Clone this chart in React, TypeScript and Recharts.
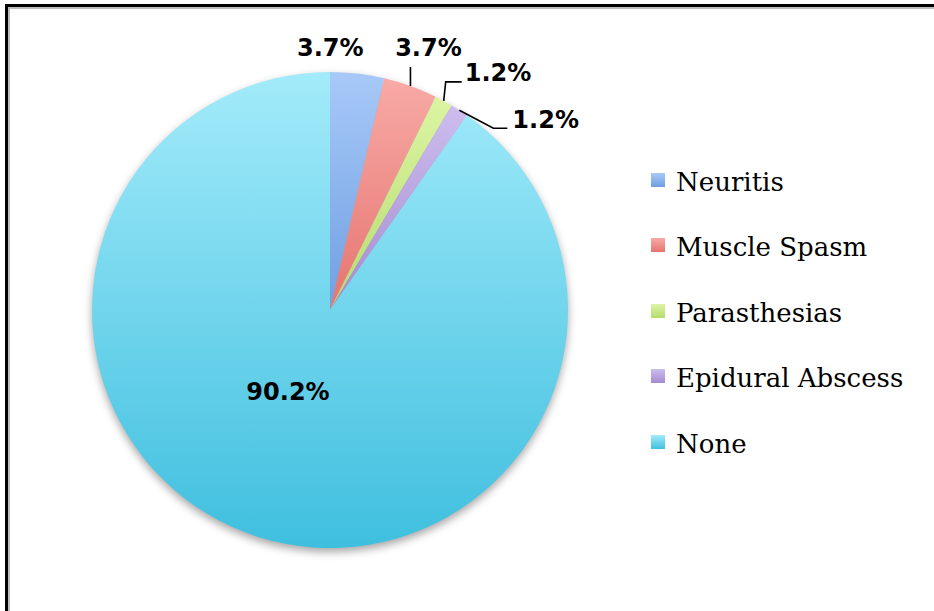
import React from "react";
import { PieChart, Pie, Cell, Legend } from "recharts";

// counts (3.7% = 3 of 82, 1.2% = 1 of 82, 90.2% = 74 of 82)
const categories = ["Neuritis", "Muscle Spasm", "Parasthesias", "Epidural Abscess", "None"];
const counts = [3, 3, 1, 1, 74];

const sliceTop = ["#a8c9f8", "#f8aaa6", "#dcf4a4", "#cdbdee", "#a3ebfa"];
const sliceBottom = ["#6f9fe2", "#e67470", "#b6dc6e", "#a48ad0", "#3fbfdf"];

const data = categories.map((name, i) => ({ name, value: counts[i] }));

const RADIAN = Math.PI / 180;

// label placement relative to the point on the outer edge at each slice's mid angle
const labelLayout = [
  { line: [], dx: -27, dy: -26, anchor: "middle" },
  { line: [[0, 0], [0, -19]], dx: 18, dy: -38, anchor: "middle" },
  { line: [[0, 0], [2, -19], [18, -19]], dx: 21, dy: -28, anchor: "start" },
  { line: [[0, 0], [34, 18], [48, 18]], dx: 53, dy: 10, anchor: "start" },
];

const renderLabel = (props: any) => {
  const { cx, cy, midAngle, outerRadius, percent, index } = props;
  const text = `${(percent * 100).toFixed(1)}%`;
  const style = { fontFamily: "'DejaVu Sans', sans-serif", fontWeight: 700, fontSize: 24, fill: "#000" };
  if (index === 4) {
    const r = outerRadius * 0.39;
    const x = cx + r * Math.cos(-midAngle * RADIAN) - 14;
    const y = cy + r * Math.sin(-midAngle * RADIAN) - 6;
    return (
      <text x={x} y={y} textAnchor="middle" dominantBaseline="central" style={style}>
        {text}
      </text>
    );
  }
  const sx = cx + outerRadius * Math.cos(-midAngle * RADIAN);
  const sy = cy + outerRadius * Math.sin(-midAngle * RADIAN);
  const lay = labelLayout[index];
  const pts = lay.line.map((p: number[]) => `${sx + p[0]},${sy + p[1]}`).join(" ");
  return (
    <g>
      {lay.line.length > 0 && <polyline points={pts} fill="none" stroke="#000" strokeWidth={1.6} />}
      <text
        x={sx + lay.dx}
        y={sy + lay.dy}
        textAnchor={lay.anchor as any}
        dominantBaseline="central"
        style={style}
      >
        {text}
      </text>
    </g>
  );
};

const renderLegend = () => (
  <div style={{ fontFamily: "'DejaVu Serif', serif", fontSize: 26, color: "#000" }}>
    {categories.map((c, i) => (
      <div key={c} style={{ height: 65.5, display: "flex", alignItems: "center" }}>
        <span
          style={{
            display: "inline-block",
            width: 14,
            height: 14,
            marginRight: 11,
            marginTop: -4,
            background: `linear-gradient(${sliceTop[i]}, ${sliceBottom[i]})`,
          }}
        />
        <span>{c}</span>
      </div>
    ))}
  </div>
);

export default function App() {
  return (
    <div style={{ position: "absolute", left: 0, top: 0, width: 934, height: 611, background: "#fff", overflow: "hidden" }}>
      <style>{`.recharts-pie { filter: drop-shadow(0px 4px 4px rgba(0,0,0,0.35)); }`}</style>
      <div
        style={{
          position: "absolute",
          left: 5,
          top: 4,
          width: 1000,
          height: 700,
          borderLeft: "3px solid #000",
          borderTop: "3px solid #000",
          boxShadow: "inset 2px 2px 0 #bbb",
        }}
      />
      <div style={{ position: "absolute", left: 0, top: 0 }}>
        <PieChart width={934} height={611} margin={{ top: 0, right: 0, bottom: 0, left: 0 }}>
          <defs>
            {categories.map((c, i) => (
              <linearGradient key={c} id={`grad${i}`} x1="0" y1="0" x2="0" y2="1">
                <stop offset="0%" stopColor={sliceTop[i]} />
                <stop offset="100%" stopColor={sliceBottom[i]} />
              </linearGradient>
            ))}
          </defs>
          <Pie
            data={data}
            dataKey="value"
            nameKey="name"
            cx={330}
            cy={310}
            outerRadius={238}
            startAngle={90}
            endAngle={-270}
            stroke="none"
            label={renderLabel}
            labelLine={false}
            isAnimationActive={false}
          >
            {data.map((d, i) => (
              <Cell key={d.name} fill={`url(#grad${i})`} />
            ))}
          </Pie>
          <Legend
            content={renderLegend}
            layout="vertical"
            wrapperStyle={{ position: "absolute", left: 651, top: 149, width: 280 }}
          />
        </PieChart>
      </div>
    </div>
  );
}
